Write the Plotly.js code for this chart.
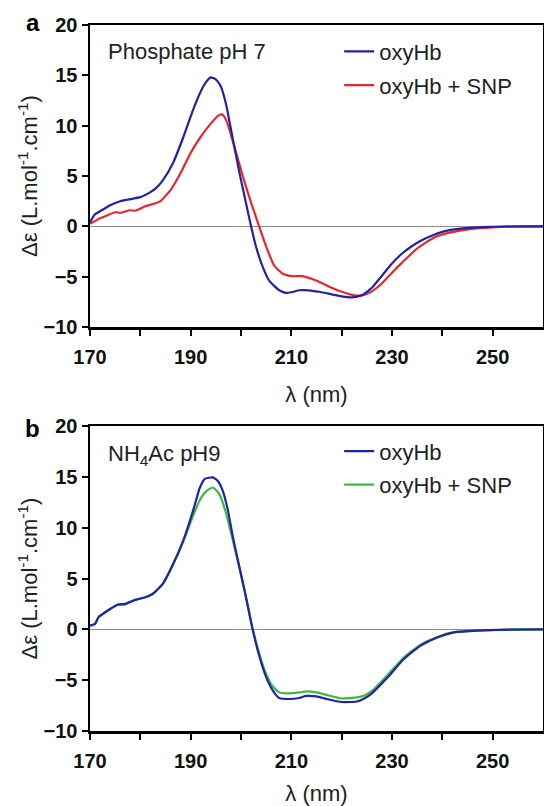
<!DOCTYPE html>
<html>
<head>
<meta charset="utf-8">
<script src="https://cdn.plot.ly/plotly-3.0.1.min.js"></script>
<style>html,body{margin:0;padding:0;background:#fff;}#chart{width:544px;height:806px;}</style>
</head>
<body>
<div id="chart"></div>
<script>
// Panel a: Phosphate pH 7
var aBlueX = [170,171,172,174,176,178,180,182,183,184.5,186.5,188.5,190.5,192,193,194,195,196,197,198.4,199.7,201,202,203,204.3,205.6,207.6,208.9,210,211.6,213.5,215.5,218,220,222,224,226,228,230,232,234,236,238,240,242,244,246,248,250,255,260];
var aBlueY = [0.4,1.2,1.5,2.1,2.5,2.7,2.9,3.4,3.75,4.6,6.3,8.8,11.6,13.4,14.3,14.8,14.6,13.9,12.2,8.6,5.3,2.3,0.0,-2.05,-4.0,-5.4,-6.35,-6.6,-6.55,-6.35,-6.35,-6.5,-6.75,-6.95,-7.05,-6.85,-6.1,-4.9,-3.7,-2.7,-1.95,-1.35,-0.9,-0.55,-0.33,-0.2,-0.12,-0.07,-0.04,0.0,0.0];
var aRedX = [170,172,173,175,176,178,179,181,183,184,186,188,190,192,194,195.5,196.3,197.1,198.7,200.4,202,203.6,205,206.6,208.3,210.3,212.2,215.5,218,220,222.5,224,225.5,227,228.5,230,232,235,238.4,241.7,245.6,250,255,260];
var aRedY = [0.25,0.8,1.0,1.4,1.35,1.6,1.55,2.0,2.3,2.5,3.6,5.3,7.3,8.9,10.2,11.0,11.1,10.5,7.9,4.9,2.35,0.0,-2.0,-3.9,-4.7,-4.95,-4.95,-5.5,-6.1,-6.5,-6.85,-6.85,-6.6,-6.1,-5.4,-4.6,-3.6,-2.2,-1.1,-0.6,-0.27,-0.1,-0.02,0.0];

// Panel b: NH4Ac pH9
var bBlueX = [170,171,171.7,172.5,174,175.5,177,178,179,181,182.5,184.5,186.5,188.5,190.5,191.8,192.8,194.4,195.4,196.4,197.4,198.4,199.7,201,202.3,203.7,205,206.3,207.6,209.6,211.6,213,215,217,220,223,224.5,226,229.2,232.4,235.7,239,242.3,246.9,253.6,260];
var bBlueY = [0.4,0.55,1.2,1.5,2.0,2.45,2.5,2.7,2.9,3.15,3.5,4.5,6.4,8.7,11.7,13.9,14.8,14.95,14.6,13.6,11.7,9.05,6.1,3.15,0.0,-2.75,-4.7,-6.0,-6.75,-6.85,-6.75,-6.55,-6.6,-6.85,-7.15,-7.1,-6.8,-6.3,-4.7,-2.9,-1.6,-0.8,-0.3,-0.13,-0.03,0.0];
var bGreenX = [170,171,171.7,172.5,174,175.5,177,178,179,181,182.5,184.5,186.5,188.5,190.5,191.8,193.1,194.4,195.7,197.1,198.4,199.7,201,202.3,203.7,205,206.3,207.6,208.9,211.6,213,215,217,220,223,224.5,226,229.2,232.4,235.7,239,242.3,246.9,253.6,260];
var bGreenY = [0.3,0.5,1.2,1.5,2.0,2.4,2.45,2.7,2.9,3.15,3.5,4.5,6.4,8.6,11.2,12.7,13.6,13.95,13.3,11.3,8.7,6.0,3.1,0.1,-2.5,-4.4,-5.6,-6.2,-6.3,-6.2,-6.1,-6.2,-6.45,-6.8,-6.7,-6.5,-6.05,-4.45,-2.75,-1.5,-0.75,-0.28,-0.12,-0.02,0.0];

var seriesNames = ['oxyHb', 'oxyHb + SNP'];
var xTickVals = [170, 190, 210, 230, 250];
var xMinorVals = [180, 200, 220, 240];
var yTickVals = [-10, -5, 0, 5, 10, 15, 20];

var BLUE = '#2222a6', RED = '#e8272c', GREEN = '#3cba3c';
var FONT = 'Liberation Sans, Arial, sans-serif';

var traces = [
  {x: aRedX, y: aRedY, name: seriesNames[1], xaxis: 'x', yaxis: 'y', legend: 'legend', legendrank: 2, legendgroup: 'a2',
   mode: 'lines', line: {color: RED, width: 2.2, shape: 'spline', smoothing: 0.5}},
  {x: aBlueX, y: aBlueY, name: seriesNames[0], xaxis: 'x', yaxis: 'y', legend: 'legend', legendrank: 1, legendgroup: 'a1',
   mode: 'lines', line: {color: BLUE, width: 2.2, shape: 'spline', smoothing: 0.5}},
  {x: bGreenX, y: bGreenY, name: seriesNames[1], xaxis: 'x2', yaxis: 'y2', legend: 'legend2', legendrank: 2, legendgroup: 'b2',
   mode: 'lines', line: {color: GREEN, width: 2.2, shape: 'spline', smoothing: 0.5}},
  {x: bBlueX, y: bBlueY, name: seriesNames[0], xaxis: 'x2', yaxis: 'y2', legend: 'legend2', legendrank: 1, legendgroup: 'b1',
   mode: 'lines', line: {color: BLUE, width: 2.2, shape: 'spline', smoothing: 0.5}}
];

function xAxis(anchor) {
  return {
    anchor: anchor, domain: [0, 1], range: [170, 260],
    tickvals: xTickVals, ticks: 'outside', ticklen: 6, tickwidth: 2, tickcolor: '#000',
    minor: {tickvals: xMinorVals, ticks: 'outside', ticklen: 6, tickwidth: 2, tickcolor: '#000', showgrid: false},
    showline: true, linewidth: 2.5, linecolor: '#000', mirror: true,
    showgrid: false, zeroline: false,
    tickfont: {family: FONT, size: 20, color: '#111', weight: 'bold'},
    ticklabelstandoff: 4,
    title: {text: 'λ (nm)', font: {family: FONT, size: 22, color: '#222'}, standoff: 20}
  };
}
function yAxis(anchor, domain) {
  return {
    anchor: anchor, domain: domain, range: [-10, 20],
    tickvals: yTickVals, ticks: 'outside', ticklen: 6, tickwidth: 2, tickcolor: '#000',
    showline: true, linewidth: 2.5, linecolor: '#000', mirror: true,
    showgrid: false, zeroline: true, zerolinecolor: '#8a8a8a', zerolinewidth: 1,
    tickfont: {family: FONT, size: 20, color: '#111', weight: 'bold'},
    title: {text: 'Δε (L.mol<sup>-1</sup>.cm<sup>-1</sup>)', font: {family: FONT, size: 22, color: '#222'}, standoff: 0}
  };
}
function legendAt(y) {
  return {
    x: 0.55, y: y, xanchor: 'left', yanchor: 'top', bgcolor: 'rgba(0,0,0,0)', borderwidth: 0,
    traceorder: 'grouped', tracegroupgap: 2, itemwidth: 30,
    font: {family: FONT, size: 22, color: '#222'}
  };
}

var layout = {
  width: 544, height: 806,
  margin: {l: 90, r: 1, t: 25, b: 75},
  paper_bgcolor: '#fff', plot_bgcolor: '#fff',
  showlegend: true,
  xaxis: xAxis('y'),
  yaxis: yAxis('x', [0.5722, 1]),
  xaxis2: xAxis('y2'),
  yaxis2: yAxis('x2', [0, 0.432]),
  legend: legendAt(0.992),
  legend2: legendAt(0.426),
  annotations: [
    {text: 'a', xref: 'paper', yref: 'paper', x: -0.126, y: 1.004, xanchor: 'center', yanchor: 'middle', showarrow: false,
     font: {family: FONT, size: 24, color: '#000', weight: 'bold'}},
    {text: 'b', xref: 'paper', yref: 'paper', x: -0.126, y: 0.428, xanchor: 'center', yanchor: 'middle', showarrow: false,
     font: {family: FONT, size: 24, color: '#000', weight: 'bold'}},
    {text: 'Phosphate pH 7', xref: 'paper', yref: 'paper', x: 0.035, y: 0.962, xanchor: 'left', yanchor: 'middle', showarrow: false,
     font: {family: FONT, size: 22, color: '#222'}},
    {text: 'NH<sub>4</sub>Ac pH9', xref: 'paper', yref: 'paper', x: 0.035, y: 0.391, xanchor: 'left', yanchor: 'middle', showarrow: false,
     font: {family: FONT, size: 22, color: '#222'}}
  ]
};

Plotly.newPlot('chart', traces, layout, {displayModeBar: false, staticPlot: true});
</script>
</body>
</html>
